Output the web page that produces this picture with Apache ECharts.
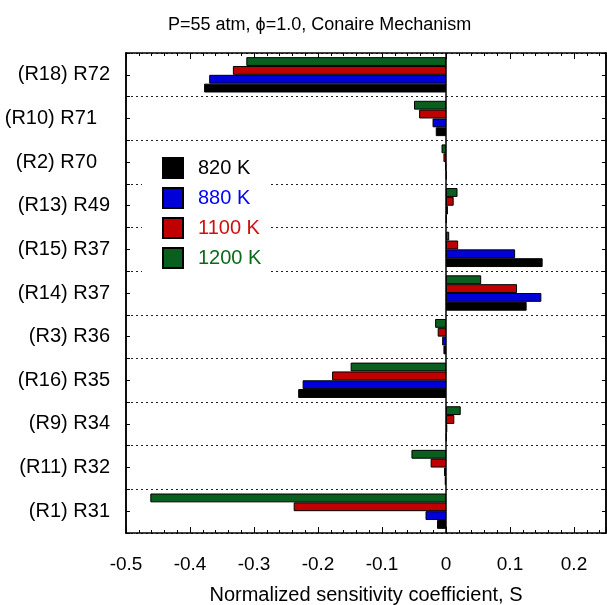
<!DOCTYPE html>
<html>
<head>
<meta charset="utf-8">
<script src="https://cdn.jsdelivr.net/npm/echarts@6/dist/echarts.min.js"></script>
<style>html,body{margin:0;padding:0;background:#fff}#c{width:607px;height:605px}</style>
</head>
<body>
<div id="c"></div>
<script>
// Categories listed bottom to top
var categories = ['(R1) R31', '(R11) R32', '(R9) R34', '(R16) R35', '(R3) R36', '(R14) R37', '(R15) R37', '(R13) R49', '(R2) R70', '(R10) R71', '(R18) R72'];
var s820  = [-0.014, -0.002, 0.001, -0.231, -0.004, 0.126, 0.151, 0.001, 0.001, -0.016, -0.378];
var s880  = [-0.032, -0.003, 0.002, -0.224, -0.006, 0.149, 0.108, 0.003, -0.001, -0.021, -0.370];
var s1100 = [-0.238, -0.024, 0.013, -0.178, -0.013, 0.111, 0.019, 0.012, -0.004, -0.042, -0.333];
var s1200 = [-0.462, -0.054, 0.023, -0.149, -0.017, 0.055, 0.005, 0.018, -0.007, -0.050, -0.312];
var seriesNames = ['820 K', '880 K', '1100 K', '1200 K'];
var seriesColors = ['#000000', '#0000d8', '#c00000', '#0a5e1e'];
var legendTextColors = ['#000000', '#0000ff', '#d01010', '#0a6a1a'];
var xTicks = { min: -0.5, max: 0.25, interval: 0.1 };
var titleText = 'P=55 atm, \u03d5=1.0, Conaire Mechanism';
var xName = 'Normalized sensitivity coefficient, S';

var FONT = '"Liberation Sans", Arial, sans-serif';
var chart = echarts.init(document.getElementById('c'), null, { renderer: 'canvas' });
var allData = [s820, s880, s1100, s1200];
var series = [];
// first series is drawn at the top of each band: add 1200 K first
for (var k = allData.length - 1; k >= 0; k--) {
  var s = {
    name: seriesNames[k], type: 'bar', data: allData[k],
    xAxisIndex: 0, yAxisIndex: 0,
    barGap: '0%', barCategoryGap: '19%',
    itemStyle: { color: seriesColors[k], borderColor: '#000', borderWidth: 1 },
    emphasis: { disabled: true }, animation: false
  };
  if (k === 0) {
    s.markLine = { silent: true, symbol: 'none', label: { show: false },
      lineStyle: { color: '#000', width: 1.5, type: 'solid' }, data: [{ xAxis: 0 }] };
  }
  series.push(s);
}
var catAxisBase = function (pos, showLabel, align) {
  return {
    type: 'category', data: categories, position: pos,
    axisLine: { show: true, onZero: false, lineStyle: { color: '#000', width: 1.5 } },
    axisTick: { show: true, inside: true, length: 4, alignWithLabel: align, lineStyle: { color: '#000' } },
    axisLabel: showLabel ? {
      show: true, fontSize: 20, color: '#000', fontFamily: FONT, margin: 16,
      formatter: function (v) {
        return (v === '(R10) R71' || v === '(R2) R70') ? '{p|' + v + '}' : v;
      },
      rich: { p: { fontSize: 20, color: '#000', fontFamily: FONT, padding: [0, 13, 0, 0] } }
    } : { show: false },
    splitLine: { show: false }
  };
};
var y0 = catAxisBase('left', true, false);
y0.splitLine = { show: true, lineStyle: { color: '#222', type: [2, 3], width: 1 } };
var valAxis = function (pos, showLabel) {
  return {
    type: 'value', position: pos, min: xTicks.min, max: xTicks.max, interval: xTicks.interval,
    axisLine: { show: true, onZero: false, lineStyle: { color: '#000', width: 1.5 } },
    axisTick: { show: true, inside: true, length: 6, lineStyle: { color: '#000' } },
    minorTick: { show: true, splitNumber: 5, length: 3, lineStyle: { color: '#000' } },
    splitLine: { show: false },
    axisLabel: showLabel ? { show: true, fontSize: 19, color: '#000', fontFamily: FONT, margin: 22, showMaxLabel: false } : { show: false },
    name: showLabel ? xName : '', nameLocation: 'middle', nameGap: 52,
    nameTextStyle: { fontSize: 20, color: '#000', fontFamily: FONT }
  };
};
chart.setOption({
  animation: false,
  backgroundColor: '#fff',
  title: { text: titleText, left: 163, top: 11, textStyle: { fontSize: 18, fontWeight: 'normal', color: '#000', fontFamily: FONT } },
  grid: { left: 126, right: 1, top: 53, bottom: 72, containLabel: false, outerBoundsMode: 'none' },
  legend: {
    orient: 'vertical', left: 142, top: 147, padding: [10, 8, 10, 20],
    backgroundColor: '#fff', itemWidth: 20, itemHeight: 20, itemGap: 8,
    icon: 'rect', selectedMode: false,
    data: seriesNames.map(function (n, i) {
      return { name: n, textStyle: { color: legendTextColors[i] } };
    }),
    textStyle: { fontSize: 20, fontFamily: FONT, padding: [0, 0, 0, 10], lineHeight: 20 }
  },
  xAxis: [valAxis('bottom', true), valAxis('top', false)],
  yAxis: [y0, catAxisBase('left', false, true), catAxisBase('right', false, false), catAxisBase('right', false, true)],
  series: series
});
</script>
</body>
</html>
